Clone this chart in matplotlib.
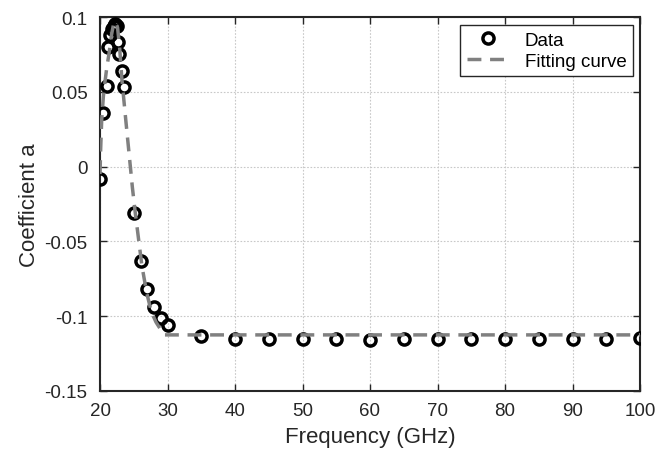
import matplotlib
matplotlib.use("Agg")
import matplotlib.pyplot as plt

plt.rcParams['font.family'] = ['Liberation Sans', 'DejaVu Sans']

# Measured data points
freq = [20, 20.5, 21, 21.25, 21.5, 21.75, 22, 22.25, 22.5, 22.7, 22.8, 23.2, 23.6,
        25, 26, 27, 28, 29, 30,
        35, 40, 45, 50, 55, 60, 65, 70, 75, 80, 85, 90, 95, 100]
coef = [-0.0085, 0.036, 0.054, 0.080, 0.088, 0.092, 0.094, 0.095, 0.094, 0.083, 0.075, 0.064, 0.053,
        -0.031, -0.063, -0.082, -0.094, -0.101, -0.106,
        -0.1135, -0.115, -0.1152, -0.1152, -0.1152, -0.116, -0.1152, -0.1152, -0.1152,
        -0.1152, -0.1152, -0.1155, -0.1152, -0.1148]

# Fitting curve
fit_f = [20.0, 20.1, 20.25, 20.5, 20.75, 21.0, 21.35, 21.7, 22.0, 22.3, 22.6, 22.9, 23.25,
         23.8, 24.3, 24.8, 25.2, 25.7, 26.2, 26.9, 27.6, 28.3, 29.0, 29.6, 30.0, 100]
fit_v = [-0.005, 0.012, 0.031, 0.047, 0.057, 0.066, 0.076, 0.088, 0.095, 0.097, 0.093, 0.080, 0.058,
         0.032, 0.009, -0.014, -0.030, -0.048, -0.066, -0.084, -0.097, -0.104, -0.109, -0.1125,
         -0.1125, -0.1125]

xticks = [20, 30, 40, 50, 60, 70, 80, 90, 100]
yticks = [-0.15, -0.1, -0.05, 0, 0.05, 0.1]
ytlabels = ['-0.15', '-0.1', '-0.05', '0', '0.05', '0.1']

fig = plt.figure(figsize=(6.64, 4.52), dpi=100)
ax = fig.add_axes([100/664, 1-392/452, 540/664, 374/452])

ax.plot(freq, coef, 'o', mfc='none', mec='black', mew=2.5, ms=8, label='Data', zorder=3)
ax.plot(fit_f, fit_v, '--', color='#808080', lw=2.5, dashes=(4, 2.5), label='Fitting curve', zorder=4)

ax.set_xlim(20, 100)
ax.set_ylim(-0.15, 0.1)
ax.set_xticks(xticks)
ax.set_yticks(yticks)
ax.set_yticklabels(ytlabels)
ax.tick_params(direction='in', top=True, right=True, labelsize=13.5, length=5,
               width=1, colors='#262626')
ax.tick_params(axis='x', pad=8)
ax.tick_params(axis='y', pad=9)
for s in ax.spines.values():
    s.set_linewidth(1.5)
    s.set_color('#262626')
ax.grid(True, linestyle=(0, (1.5, 1.5)), color='#c8c8c8', linewidth=0.8)
ax.set_axisbelow(True)

ax.set_xlabel('Frequency (GHz)', fontsize=16, color='#262626', labelpad=5)
ax.set_ylabel('Coefficient a', fontsize=16, color='#262626', labelpad=3)

leg = ax.legend(loc='upper right', bbox_to_anchor=(633/664, 1-26/452), bbox_transform=fig.transFigure,
                fontsize=13.5, fancybox=False, framealpha=1, edgecolor='#262626',
                handlelength=2.3, borderpad=0.35, labelspacing=0.2, handletextpad=0.8,
                borderaxespad=0)
leg.get_frame().set_linewidth(1.0)

fig.savefig('out.png', dpi=100)
